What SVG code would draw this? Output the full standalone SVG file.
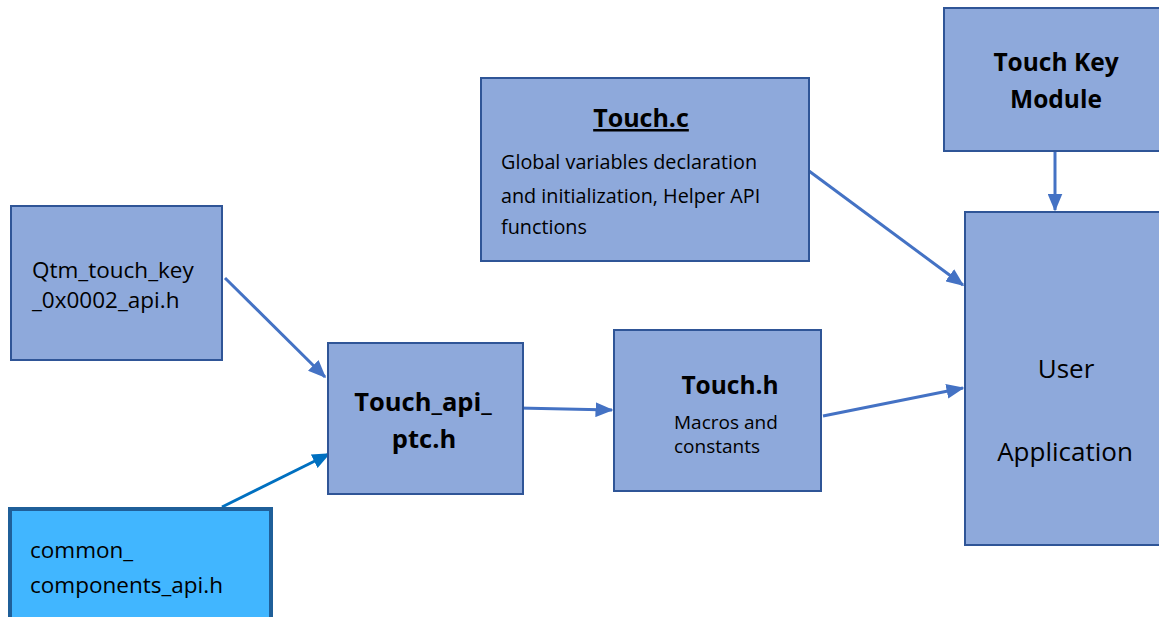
<svg xmlns="http://www.w3.org/2000/svg" width="1159" height="617" viewBox="0 0 1159 617">
<defs>
<marker id="ah" markerWidth="6" markerHeight="5" refX="5.5" refY="2.5" orient="auto" markerUnits="strokeWidth"><path d="M0,0 L6,2.5 L0,5 z" fill="#4472C4"/></marker>
<marker id="ah2" markerWidth="6" markerHeight="5" refX="5.5" refY="2.5" orient="auto" markerUnits="strokeWidth"><path d="M0,0 L6,2.5 L0,5 z" fill="#0070C0"/></marker>
<style>
.box{fill:#8EA9DB;stroke:#2F5597;stroke-width:2}
.t{font-family:"Open Sans","Liberation Sans",sans-serif;fill:#000}
.b{font-weight:bold}
.c{stroke:#4472C4;stroke-width:3;fill:none;marker-end:url(#ah)}
</style>
</defs>
<rect width="1159" height="617" fill="#fff"/>
<g id="connectors">
<line class="c" x1="225" y1="278" x2="325" y2="377"/>
<line x1="222" y1="507" x2="329" y2="454" stroke="#0070C0" stroke-width="3" marker-end="url(#ah2)"/>
<line class="c" x1="518" y1="408" x2="612" y2="410"/>
<line class="c" x1="823" y1="416" x2="963" y2="388"/>
<line class="c" x1="809" y1="171" x2="963" y2="285"/>
<line class="c" x1="1055" y1="152" x2="1055" y2="210"/>
</g>
<g id="qtm">
<rect class="box" x="11" y="206" width="211" height="154"/>
<text class="t" x="32" y="278" font-size="22.5">Qtm_touch_key</text>
<text class="t" x="32" y="308" font-size="22.5">_0x0002_api.h</text>
</g>
<g id="touch_api_ptc">
<rect class="box" x="328" y="343" width="195" height="151"/>
<text class="t b" x="423" y="411" font-size="25.5" text-anchor="middle">Touch_api_</text>
<text class="t b" x="424" y="448" font-size="25.5" text-anchor="middle">ptc.h</text>
</g>
<g id="touch_h">
<rect class="box" x="614" y="330" width="207" height="161"/>
<text class="t b" x="730" y="394" font-size="24.5" text-anchor="middle">Touch.h</text>
<text class="t" x="674" y="429" font-size="19">Macros and</text>
<text class="t" x="674" y="453" font-size="19">constants</text>
</g>
<g id="touch_c">
<rect class="box" x="481" y="78" width="328" height="183"/>
<text class="t b" x="641" y="127" font-size="25" text-anchor="middle" text-decoration="underline">Touch.c</text>
<text class="t" x="501" y="169" font-size="19.8">Global variables declaration</text>
<text class="t" x="501" y="203" font-size="19.8">and initialization, Helper API</text>
<text class="t" x="501" y="234" font-size="19.8">functions</text>
</g>
<g id="touch_key_module">
<rect class="box" x="944" y="8" width="220" height="143"/>
<text class="t b" x="1056" y="71" font-size="24.5" text-anchor="middle">Touch Key</text>
<text class="t b" x="1056" y="108" font-size="24.5" text-anchor="middle">Module</text>
</g>
<g id="user_application">
<rect class="box" x="965" y="212" width="200" height="333"/>
<text class="t" x="1066" y="378" font-size="26" text-anchor="middle">User</text>
<text class="t" x="1065" y="461" font-size="26" text-anchor="middle">Application</text>
</g>
<g id="common_components">
<rect x="10" y="509" width="261" height="115" fill="#41B6FF" stroke="#1F5F99" stroke-width="4"/>
<text class="t" x="30" y="558" font-size="22.5">common_</text>
<text class="t" x="30" y="593" font-size="22.5">components_api.h</text>
</g>
</svg>
